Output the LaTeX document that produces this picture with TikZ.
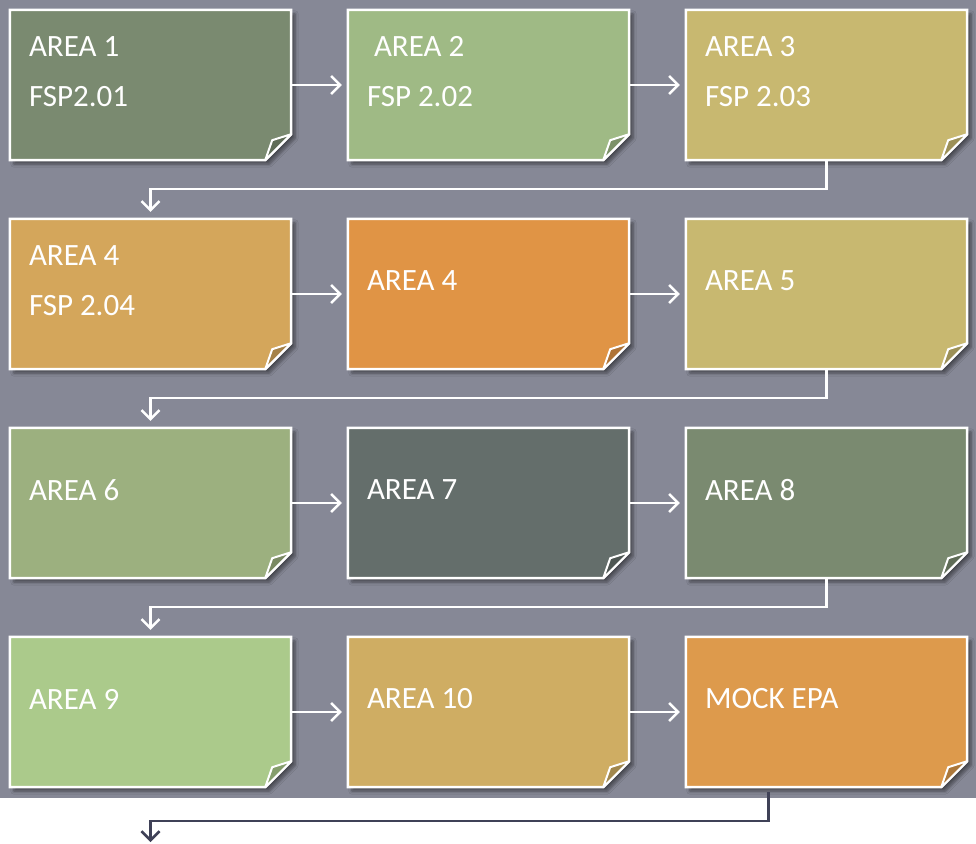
\documentclass[tikz,border=0pt]{standalone}
\usepackage{fontspec}
\setmainfont{Carlito}
\usetikzlibrary{arrows.meta,calc,shadows.blur}

\definecolor{bgslate}{HTML}{868896}
\definecolor{linkdark}{HTML}{3F4157}
\definecolor{sage}{HTML}{7A8A70}
\definecolor{fern}{HTML}{9FBA85}
\definecolor{khaki}{HTML}{C8B870}
\definecolor{ochre}{HTML}{D4A65B}
\definecolor{tangerine}{HTML}{E09445}
\definecolor{moss}{HTML}{9CB07F}
\definecolor{slate}{HTML}{646E6B}
\definecolor{lime}{HTML}{ABCA8B}
\definecolor{sand}{HTML}{CFAD63}
\definecolor{amber}{HTML}{DD9A4C}

\begin{document}
\begin{tikzpicture}[
  x=1pt, y=-1pt,
  font=\fontsize{31}{50}\selectfont,
  note/.style={rectangle, minimum width=281pt, minimum height=150pt, inner sep=0pt},
  sheet/.style={draw=white, line width=2.5pt, line join=miter,
                blur shadow={shadow xshift=4pt, shadow yshift=-4pt, shadow blur radius=3pt,
                             shadow blur steps=6, shadow opacity=45}},
  fold/.style={draw=white, line width=2pt, line join=round},
  lbl/.style={text=white, align=left, anchor=west, inner sep=0pt},
  flow/.style={-{Straight Barb[length=9pt, width=18pt]}, draw=white, line width=2.5pt},
  exit/.style={-{Straight Barb[length=9pt, width=18pt]}, draw=linkdark, line width=2.5pt},
]

\def\ca{150.5}  \def\cb{488.5}  \def\cc{826.5}
\def\ra{85}  \def\rb{294}  \def\rc{503}  \def\rd{712}

\useasboundingbox (0,0) rectangle (976,843);
\fill[bgslate] (0,0) rectangle (976,798);

% sticky notes
\node[note] (a1) at (\ca,\ra) {};
\node[note] (a2) at (\cb,\ra) {};
\node[note] (a3) at (\cc,\ra) {};
\node[note] (a4) at (\ca,\rb) {};
\node[note] (a5) at (\cb,\rb) {};
\node[note] (a6) at (\cc,\rb) {};
\node[note] (a7) at (\ca,\rc) {};
\node[note] (a8) at (\cb,\rc) {};
\node[note] (a9) at (\cc,\rc) {};
\node[note] (a10) at (\ca,\rd) {};
\node[note] (a11) at (\cb,\rd) {};
\node[note] (a12) at (\cc,\rd) {};

\foreach \n/\c in {a1/sage,a2/fern,a3/khaki,a4/ochre,a5/tangerine,a6/khaki,
                   a7/moss,a8/slate,a9/sage,a10/lime,a11/sand,a12/amber} {
  \filldraw[sheet, fill=\c] (\n.north west) -- (\n.north east) -- ([yshift=26pt]\n.south east)
      -- ([xshift=-26pt]\n.south east) -- (\n.south west) -- cycle;
  \filldraw[fold, fill=\c!78!black] ([yshift=26pt]\n.south east) -- ([xshift=-19pt,yshift=20pt]\n.south east)
      -- ([xshift=-26pt]\n.south east) -- cycle;
}

% labels
\node[lbl] (t1) at ([xshift=19pt,yshift=13pt]a1.west) {AREA 1\\FSP2.01};
\node[lbl] (t2) at ([xshift=19pt,yshift=13pt]a2.west) {\hspace{7pt}AREA 2\\FSP 2.02};
\node[lbl] (t3) at ([xshift=19pt,yshift=13pt]a3.west) {AREA 3\\FSP 2.03};
\node[lbl] (t4) at ([xshift=19pt,yshift=13pt]a4.west) {AREA 4\\FSP 2.04};
\node[lbl] (t5) at ([xshift=19pt,yshift=13pt]a5.west) {AREA 4};
\node[lbl] (t6) at ([xshift=19pt,yshift=13pt]a6.west) {AREA 5};
\node[lbl] (t7) at ([xshift=19pt,yshift=13pt]a7.west) {AREA 6};
\node[lbl] (t8) at ([xshift=19pt,yshift=13pt]a8.west) {AREA 7};
\node[lbl] (t9) at ([xshift=19pt,yshift=13pt]a9.west) {AREA 8};
\node[lbl] (t10) at ([xshift=19pt,yshift=13pt]a10.west) {AREA 9};
\node[lbl] (t11) at ([xshift=19pt,yshift=13pt]a11.west) {AREA 10};
\node[lbl] (t12) at ([xshift=19pt,yshift=13pt]a12.west) {MOCK EPA};

% links within a row
\foreach \p/\q in {a1/a2,a2/a3,a4/a5,a5/a6,a7/a8,a8/a9,a10/a11,a11/a12} {
  \draw[flow, shorten >=6pt] (\p.east) -- (\q.west);
}

% links to the next row
\draw[flow, shorten >=7pt] (a3.south) -- ++(0,29) -| (a4.north);
\draw[flow, shorten >=7pt] (a6.south) -- ++(0,29) -| (a7.north);
\draw[flow, shorten >=7pt] (a9.south) -- ++(0,29) -| (a10.north);

% way out
\coordinate (out) at (\ca,842);
\draw[exit] ([xshift=-58pt,yshift=-5pt]a12.south) -- ++(0,29) -| (out);

\end{tikzpicture}
\end{document}
